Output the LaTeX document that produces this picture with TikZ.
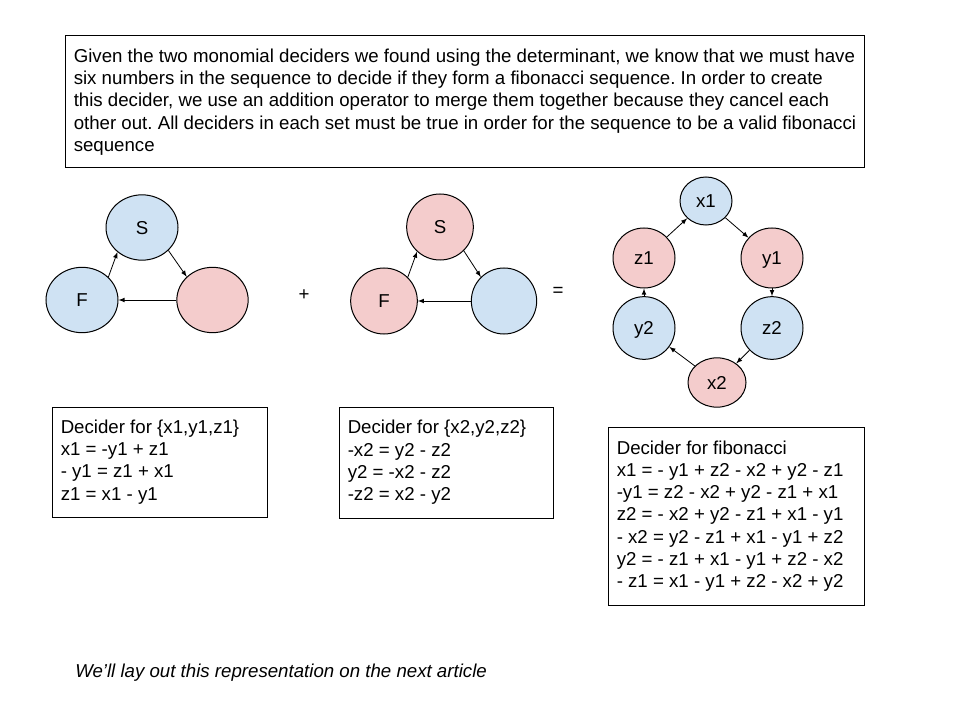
\documentclass[tikz,border=0pt]{standalone}
\usepackage{fontspec}
\setmainfont{Liberation Sans}
\usetikzlibrary{arrows}
\usetikzlibrary{shapes.geometric}
\definecolor{lblue}{HTML}{CFE2F3}
\definecolor{lpink}{HTML}{F4CCCC}
\tikzset{
  vert/.style={ellipse, draw, line width=0.75pt, inner sep=0pt, text height=10pt, text depth=0pt, font=\fontsize{14}{16.7}\selectfont},
  bvert/.style={vert, fill=lblue},
  pvert/.style={vert, fill=lpink},
  textbox/.style={draw, line width=0.75pt, inner sep=0pt},
  boxtext/.style={anchor=west, align=left, inner sep=0pt, font=\fontsize{14}{16.7}\selectfont},
  link/.style={-latex, line width=0.6pt},
}

\begin{document}
\frenchspacing
\begin{tikzpicture}[x=0.75pt, y=-0.75pt]
      \useasboundingbox (0, 0) rectangle (960, 720);

      \node [textbox, minimum width=599.25pt, minimum height=99pt] (intro) at (464.5, 102) {};
      \node [boxtext] (introtext) at ([xshift=6.75pt]intro.west) {Given the two monomial deciders we found using the determinant, we know that we must have\\
        six numbers in the sequence to decide if they form a fibonacci sequence. In order to create\\
        this decider, we use an addition operator to merge them together because they cancel each\\
        other out. All deciders in each set must be true in order for the sequence to be a valid fibonacci\\
        sequence};

      % first triangle
      \node [bvert, minimum width=54pt, minimum height=49pt] (s1) at (142, 227.5) {S};
      \node [bvert, minimum width=54pt, minimum height=49pt] (f1) at (82, 300) {F};
      \node [pvert, minimum width=53.5pt, minimum height=49pt] (r1) at (212.5, 300) {};
      \draw [link] (f1.41) -- (s1.225);
      \draw [link] (s1.-41) -- (r1.138);
      \draw [link] (r1) -- (f1);

      \node [font=\fontsize{14}{16.7}\selectfont] (plus) at (304, 295) {+};

      % second triangle
      \node [pvert, minimum width=50pt, minimum height=49.5pt] (s2) at (440, 227) {S};
      \node [pvert, minimum width=50pt, minimum height=49.5pt] (f2) at (384, 301) {F};
      \node [bvert, minimum width=49pt, minimum height=49.5pt] (r2) at (504, 301) {};
      \draw [link] (f2.45) -- (s2.227);
      \draw [link] (s2.-45) -- (r2.134);
      \draw [link] (r2) -- (f2);

      \node [font=\fontsize{14}{16.7}\selectfont] (equals) at (558, 292) {=};

      % merged cycle
      \node [bvert, minimum width=39pt, minimum height=36pt] (x1) at (706, 201) {x1};
      \node [pvert, minimum width=46.5pt, minimum height=45pt] (y1) at (772, 258) {y1};
      \node [bvert, minimum width=46.5pt, minimum height=47pt] (z2) at (772, 328) {z2};
      \node [pvert, minimum width=43.5pt, minimum height=37pt] (x2) at (717, 382.5) {x2};
      \node [bvert, minimum width=46.5pt, minimum height=47pt] (y2) at (644, 328) {y2};
      \node [pvert, minimum width=46.5pt, minimum height=45pt] (z1) at (644, 258) {z1};
      \draw [link] (z1) -- (x1);
      \draw [link] (x1) -- (y1);
      \draw [link] (y1) -- (z2);
      \draw [link] (z2) -- (x2);
      \draw [link] (x2) -- (y2);
      \draw [link] (y2) -- (z1);

      % deciders
      \node [textbox, minimum width=161.25pt, minimum height=82.5pt] (dec1) at (159.5, 462) {};
      \node [boxtext] (dec1text) at ([xshift=6.75pt]dec1.west) {Decider for \{x1,y1,z1\}\\
        x1 = -y1 + z1\\
        - y1 = z1 + x1\\
        z1 = x1 - y1};
      \node [textbox, minimum width=160.5pt, minimum height=83.25pt] (dec2) at (446, 462.5) {};
      \node [boxtext] (dec2text) at ([xshift=6.75pt]dec2.west) {Decider for \{x2,y2,z2\}\\
        -x2 = y2 - z2\\
        y2 = -x2 - z2\\
        -z2 = x2 - y2};
      \node [textbox, minimum width=192pt, minimum height=133.5pt] (dec3) at (736, 516) {};
      \node [boxtext] (dec3text) at ([xshift=6.75pt]dec3.west) {Decider for fibonacci\\
        x1 = - y1 + z2 - x2 + y2 - z1\\
        -y1 = z2 - x2 + y2 - z1 + x1\\
        z2 = - x2 + y2 - z1 + x1 - y1\\
        - x2 = y2 - z1 + x1 - y1 + z2\\
        y2 = - z1 + x1 - y1 + z2 - x2\\
        - z1 = x1 - y1 + z2 - x2 + y2};

      \node [anchor=base west, inner sep=0pt, font=\fontsize{14}{16.7}\selectfont\itshape] (note) at (75, 677) {We’ll lay out this representation on the next article};
\end{tikzpicture}
\end{document}
